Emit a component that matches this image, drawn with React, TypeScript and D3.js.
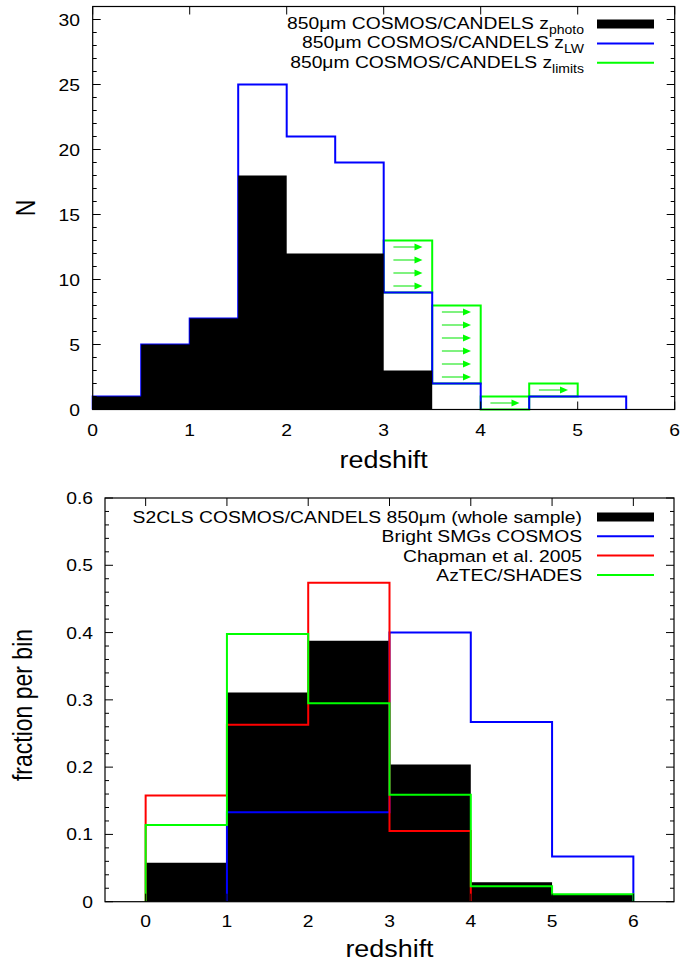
import React from 'react';
import * as d3 from 'd3';

// ---------- DATA ----------
// Top panel: counts in redshift bins of width 0.5 starting at z = 0
const topBinStart = 0;
const topBinWidth = 0.5;
const photoCounts = [1, 5, 7, 18, 12, 12, 3];
const lwCounts = [1, 5, 7, 25, 21, 19, 9, 2, 0, 1, 1];
const limitCounts = [0, 0, 0, 0, 0, 0, 4, 6, 1, 1, 0];
const topXTicks = [0, 1, 2, 3, 4, 5, 6];
const topYTicks = [0, 5, 10, 15, 20, 25, 30];
const topYMinor = d3.range(0, 31, 1);
const topLegend = [
  { main: '850\u03bcm COSMOS/CANDELS z', sub: 'photo' },
  { main: '850\u03bcm COSMOS/CANDELS z', sub: 'LW' },
  { main: '850\u03bcm COSMOS/CANDELS z', sub: 'limits' },
];

// Bottom panel: fraction per unit-width redshift bin starting at z = 0
const botBinStart = 0;
const botBinWidth = 1;
const s2clsFrac = [0.058, 0.311, 0.388, 0.204, 0.029, 0.01];
const brightFrac = [0, 0.133, 0.133, 0.4, 0.267, 0.067];
const chapmanFrac = [0.158, 0.263, 0.474, 0.105];
const aztecFrac = [0.114, 0.398, 0.295, 0.159, 0.023, 0.011];
const botXTicks = [0, 1, 2, 3, 4, 5, 6];
const botYTicks = [0, 0.1, 0.2, 0.3, 0.4, 0.5, 0.6];
const botYTickLabels = ['0', '0.1', '0.2', '0.3', '0.4', '0.5', '0.6'];
const botYMinor = d3.range(0, 0.6001, 0.02);
const botLegend = [
  'S2CLS COSMOS/CANDELS 850\u03bcm (whole sample)',
  'Bright SMGs COSMOS',
  'Chapman et al. 2005',
  'AzTEC/SHADES',
];

// ---------- STYLE ----------
const FONT = '"Liberation Sans", Arial, Helvetica, sans-serif';
const SX = 1.17;
const TICK_FS = 16.5;
const LAB_FS = 23;
const BLUE = '#0000ff';
const RED = '#ff0000';
const GREEN = '#00ff00';

type Scale = d3.ScaleLinear<number, number>;

function stepPoints(vals: number[], start: number, w: number, x: Scale, y: Scale): [number, number][] {
  const i0 = Math.max(0, vals.findIndex((v) => v > 0));
  const pts: [number, number][] = [[x(start + i0 * w), y(0)]];
  for (let i = i0; i < vals.length; i++) {
    pts.push([x(start + i * w), y(vals[i])]);
    pts.push([x(start + (i + 1) * w), y(vals[i])]);
  }
  pts.push([x(start + vals.length * w), y(0)]);
  return pts;
}

// Outline of a step histogram; zero-height bins leave no line on the baseline
function stepOutline(vals: number[], start: number, w: number, x: Scale, y: Scale): string {
  const pts = stepPoints(vals, start, w, x, y);
  const y0 = y(0);
  let d = `M${pts[0][0]},${pts[0][1]}`;
  for (let k = 1; k < pts.length; k++) {
    const [px, py] = pts[k];
    const [qx, qy] = pts[k - 1];
    const onBase = Math.abs(py - y0) < 1e-6 && Math.abs(qy - y0) < 1e-6 && px !== qx;
    d += onBase ? `M${px},${py}` : `L${px},${py}`;
  }
  return d;
}

const line = d3.line();

function T(props: {
  x: number; y: number; anchor?: string; size: number; rotate?: boolean; children: React.ReactNode;
}) {
  const { x, y, anchor = 'start', size, rotate, children } = props;
  return (
    <text
      transform={`translate(${x},${y}) scale(${SX},1)${rotate ? ' rotate(-90)' : ''}`}
      textAnchor={anchor}
      fontSize={size}
      fontFamily={FONT}
      fill="#000"
    >
      {children}
    </text>
  );
}

function Frame(props: {
  x: Scale; y: Scale; xTicks: number[]; yTicks: number[]; yMinor: number[];
}) {
  const { x, y, xTicks, yTicks, yMinor } = props;
  const [x0, x1] = x.range();
  const [y0, y1] = y.range();
  const els: React.ReactNode[] = [];
  yMinor.forEach((v, i) => {
    const yy = y(v);
    const major = yTicks.some((t) => Math.abs(t - v) < 1e-9);
    const L = major ? 8 : 4;
    els.push(<line key={'yl' + i} x1={x0} x2={x0 + L} y1={yy} y2={yy} stroke="#000" strokeWidth={1} />);
    els.push(<line key={'yr' + i} x1={x1} x2={x1 - L} y1={yy} y2={yy} stroke="#000" strokeWidth={1} />);
  });
  xTicks.forEach((v, i) => {
    const xx = x(v);
    els.push(<line key={'xb' + i} x1={xx} x2={xx} y1={y0} y2={y0 - 8} stroke="#000" strokeWidth={1} />);
    els.push(<line key={'xt' + i} x1={xx} x2={xx} y1={y1} y2={y1 + 8} stroke="#000" strokeWidth={1} />);
  });
  return (
    <g>
      {els}
      <rect x={x0} y={y1} width={x1 - x0} height={y0 - y1} fill="none" stroke="#000" strokeWidth={1.2} />
    </g>
  );
}

export default function App() {
  // ---- top panel scales
  const xT = d3.scaleLinear().domain([0, 6]).range([92.7, 674.7]);
  const yT = d3.scaleLinear().domain([0, 31]).range([409.5, 6.5]);
  // ---- bottom panel scales
  const xB = d3.scaleLinear().domain([-0.5, 6.5]).range([105, 674]);
  const yB = d3.scaleLinear().domain([0, 0.6]).range([901.7, 498]);

  const photoPath = line(stepPoints(photoCounts, topBinStart, topBinWidth, xT, yT)) + 'Z';
  const lwPath = stepOutline(lwCounts, topBinStart, topBinWidth, xT, yT);

  // green limit boxes + arrows
  const limitBoxes: React.ReactNode[] = [];
  const arrows: React.ReactNode[] = [];
  limitCounts.forEach((c, i) => {
    if (c <= 0) return;
    const a = topBinStart + i * topBinWidth;
    const xa = xT(a);
    const xb = xT(a + topBinWidth);
    const yb = yT(lwCounts[i]);
    const yt = yT(lwCounts[i] + c);
    limitBoxes.push(
      <rect key={'lb' + i} x={xa} y={yt} width={xb - xa} height={yb - yt} fill="none" stroke={GREEN} strokeWidth={2} />
    );
    for (let k = 0; k < c; k++) {
      const yy = yT(lwCounts[i] + k + 0.5);
      const s = xT(a + 0.1);
      const tip = xT(a + 0.4);
      arrows.push(
        <g key={'ar' + i + '_' + k}>
          <line x1={s} x2={tip - 7} y1={yy} y2={yy} stroke="#55ee55" strokeWidth={1.5} />
          <path d={`M${tip - 8},${yy - 3.5}L${tip},${yy}L${tip - 8},${yy + 3.5}Z`} fill={GREEN} />
        </g>
      );
    }
  });

  const s2Path = line(stepPoints(s2clsFrac, botBinStart, botBinWidth, xB, yB)) + 'Z';
  const brightPath = stepOutline(brightFrac, botBinStart, botBinWidth, xB, yB);
  const chapPath = stepOutline(chapmanFrac, botBinStart, botBinWidth, xB, yB);
  const aztecPath = stepOutline(aztecFrac, botBinStart, botBinWidth, xB, yB);

  const topRows = [24, 43.4, 62.8];
  const topColors = ['#000', BLUE, GREEN];
  const botRows = [517, 536.3, 555.6, 574.9];
  const botColors = ['#000', BLUE, RED, GREEN];

  return (
    <svg
      width={682}
      height={967}
      viewBox="0 0 682 967"
      style={{ position: 'absolute', left: 0, top: 0, display: 'block' }}
    >
      <rect x={0} y={0} width={682} height={967} fill="#fff" />

      {/* ---------------- TOP PANEL ---------------- */}
      <g>
        {limitBoxes}
        <path d={lwPath} fill="none" stroke={BLUE} strokeWidth={2} strokeLinejoin="miter" />
        <path d={photoPath} fill="#000" stroke="none" />
        {arrows}
        <Frame x={xT} y={yT} xTicks={topXTicks} yTicks={topYTicks} yMinor={topYMinor} />
        {topYTicks.map((v) => (
          <T key={'tyl' + v} x={80} y={yT(v) + 6} anchor="end" size={TICK_FS}>{String(v)}</T>
        ))}
        {topXTicks.map((v) => (
          <T key={'txl' + v} x={xT(v)} y={436} anchor="middle" size={TICK_FS}>{String(v)}</T>
        ))}
        <T x={383.7} y={468} anchor="middle" size={LAB_FS}>redshift</T>
        <T x={35} y={208} anchor="middle" size={LAB_FS} rotate>N</T>
        {topLegend.map((d, i) => (
          <g key={'tleg' + i}>
            <text
              transform={`translate(584,${topRows[i] + 5}) scale(${SX},1)`}
              textAnchor="end"
              fontSize={TICK_FS}
              fontFamily={FONT}
            >
              {d.main}
              <tspan fontSize={12} dy={5}>{d.sub}</tspan>
            </text>
            {i === 0 ? (
              <rect x={597} y={topRows[i] - 4.5} width={57} height={9} fill="#000" />
            ) : (
              <line x1={597} x2={654} y1={topRows[i]} y2={topRows[i]} stroke={topColors[i]} strokeWidth={2} />
            )}
          </g>
        ))}
      </g>

      {/* ---------------- BOTTOM PANEL ---------------- */}
      <g>
        <path d={s2Path} fill="#000" stroke="none" />
        <path d={brightPath} fill="none" stroke={BLUE} strokeWidth={2} />
        <path d={chapPath} fill="none" stroke={RED} strokeWidth={2} />
        <path d={aztecPath} fill="none" stroke={GREEN} strokeWidth={2} />
        <Frame x={xB} y={yB} xTicks={botXTicks} yTicks={botYTicks} yMinor={botYMinor} />
        {botYTicks.map((v, i) => (
          <T key={'byl' + i} x={93} y={yB(v) + 6} anchor="end" size={TICK_FS}>{botYTickLabels[i]}</T>
        ))}
        {botXTicks.map((v) => (
          <T key={'bxl' + v} x={xB(v)} y={927} anchor="middle" size={TICK_FS}>{String(v)}</T>
        ))}
        <T x={389.5} y={957} anchor="middle" size={LAB_FS}>redshift</T>
        <T x={32} y={705} anchor="middle" size={LAB_FS} rotate>fraction per bin</T>
        {botLegend.map((label, i) => (
          <g key={'bleg' + i}>
            <T x={582} y={botRows[i] + 6} anchor="end" size={TICK_FS}>{label}</T>
            {i === 0 ? (
              <rect x={597} y={botRows[i] - 4.5} width={57} height={9} fill="#000" />
            ) : (
              <line x1={597} x2={654} y1={botRows[i]} y2={botRows[i]} stroke={botColors[i]} strokeWidth={2} />
            )}
          </g>
        ))}
      </g>
    </svg>
  );
}
